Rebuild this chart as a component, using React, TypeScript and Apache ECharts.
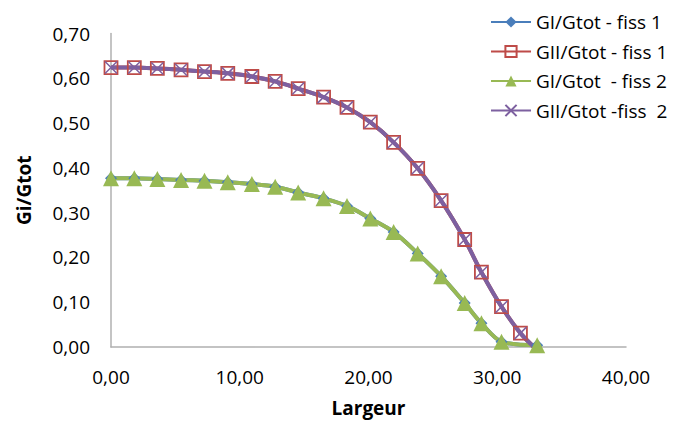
import React, { useEffect, useRef } from "react";
import * as echarts from "echarts";

const xPositions = [0, 1.81, 3.6, 5.44, 7.26, 9.07, 10.94, 12.75, 14.54, 16.51, 18.33, 20.14, 21.95, 23.82, 25.64, 27.47, 28.77, 30.33, 31.8, 33.1];
const giFiss1 = [0.377, 0.377, 0.375, 0.373, 0.371, 0.368, 0.364, 0.358, 0.345, 0.332, 0.315, 0.287, 0.257, 0.209, 0.158, 0.098, 0.053, 0.012, null, 0.004];
const giiFiss1 = [0.624, 0.624, 0.622, 0.619, 0.615, 0.611, 0.604, 0.593, 0.577, 0.558, 0.535, 0.502, 0.457, 0.399, 0.327, 0.24, 0.167, 0.09, 0.031, -0.007];
const giFiss2 = [0.377, 0.377, 0.375, 0.373, 0.371, 0.368, 0.364, 0.358, 0.345, 0.332, 0.315, 0.287, 0.257, 0.209, 0.158, 0.098, 0.053, 0.012, null, 0.004];
const giiFiss2 = [0.624, 0.624, 0.622, 0.619, 0.615, 0.611, 0.604, 0.593, 0.577, 0.558, 0.535, 0.502, 0.457, 0.399, 0.327, 0.24, 0.167, 0.09, 0.031, -0.007];
const seriesNames = ["GI/Gtot - fiss 1", "GII/Gtot - fiss 1", "GI/Gtot  - fiss 2", "GII/Gtot -fiss  2"];
const xTicks = { min: 0, max: 40, interval: 10 };
const yTicks = { min: 0, max: 0.7, interval: 0.1 };

const pairs = (ys: (number | null)[]) =>
  xPositions.map((x, i) => [x, ys[i]]).filter((p) => p[1] !== null);

const FONT = "Open Sans";
const fmt = (v: number) => v.toFixed(2).replace(".", ",");

export default function App() {
  const ref = useRef<HTMLDivElement>(null);
  useEffect(() => {
    document.body.style.margin = "0";
    const chart = echarts.init(ref.current!, null, { renderer: "svg" });
    const lineW = 4;
    chart.setOption({
      animation: false,
      backgroundColor: "#fff",
      textStyle: { fontFamily: FONT },
      grid: { left: 111, right: 52, top: 33.5, bottom: 76, containLabel: false },
      legend: {
        orient: "vertical",
        left: 490,
        top: 12,
        padding: 0,
        itemWidth: 40,
        itemHeight: 14,
        itemGap: 9.5,
        textStyle: { fontFamily: FONT, fontSize: 19, color: "#000", lineHeight: 20 },
        data: seriesNames,
      },
      xAxis: {
        type: "value",
        min: xTicks.min,
        max: xTicks.max,
        interval: xTicks.interval,
        name: "Largeur",
        nameLocation: "middle",
        nameGap: 51,
        nameTextStyle: { fontFamily: FONT, fontSize: 19, fontWeight: "bold", color: "#000" },
        axisLine: { show: true, lineStyle: { color: "#b0b0b0", width: 1.5 } },
        axisTick: { show: false },
        splitLine: { show: false },
        axisLabel: { fontFamily: FONT, fontSize: 19, color: "#000", margin: 20, formatter: fmt },
      },
      yAxis: {
        type: "value",
        min: yTicks.min,
        max: yTicks.max,
        interval: yTicks.interval,
        name: "Gi/Gtot",
        nameLocation: "middle",
        nameGap: 78,
        nameTextStyle: { fontFamily: FONT, fontSize: 19, fontWeight: "bold", color: "#000" },
        axisLine: { show: true, lineStyle: { color: "#b0b0b0", width: 1.5 } },
        axisTick: { show: false },
        splitLine: { show: false },
        axisLabel: { fontFamily: FONT, fontSize: 19, color: "#000", margin: 21, formatter: fmt },
      },
      series: [
        {
          name: seriesNames[0],
          type: "line",
          smooth: 0.3,
          clip: true,
          data: pairs(giFiss1),
          symbol: "diamond",
          symbolSize: 12,
          lineStyle: { color: "#4A7EBB", width: lineW },
          itemStyle: { color: "#4A7EBB" },
        },
        {
          name: seriesNames[1],
          type: "line",
          smooth: 0.3,
          clip: true,
          data: pairs(giiFiss1),
          symbol: "rect",
          symbolSize: 13,
          lineStyle: { color: "#BE4B48", width: lineW },
          itemStyle: { color: "rgba(0,0,0,0)", borderColor: "#BE4B48", borderWidth: 1.8 },
        },
        {
          name: seriesNames[2],
          type: "line",
          smooth: 0.3,
          clip: true,
          data: pairs(giFiss2),
          symbol: "triangle",
          symbolSize: 16,
          lineStyle: { color: "#98B954", width: lineW },
          itemStyle: { color: "#98B954" },
        },
        {
          name: seriesNames[3],
          type: "line",
          smooth: 0.3,
          clip: true,
          data: pairs(giiFiss2),
          symbol: "path://M0,0L10,10M10,0L0,10",
          symbolSize: 12,
          lineStyle: { color: "#7D60A0", width: lineW },
          itemStyle: { color: "#7D60A0", borderColor: "#7D60A0", borderWidth: 1.5 },
        },
      ],
    });
    return () => chart.dispose();
  }, []);
  return <div ref={ref} style={{ width: 678, height: 423 }} />;
}
